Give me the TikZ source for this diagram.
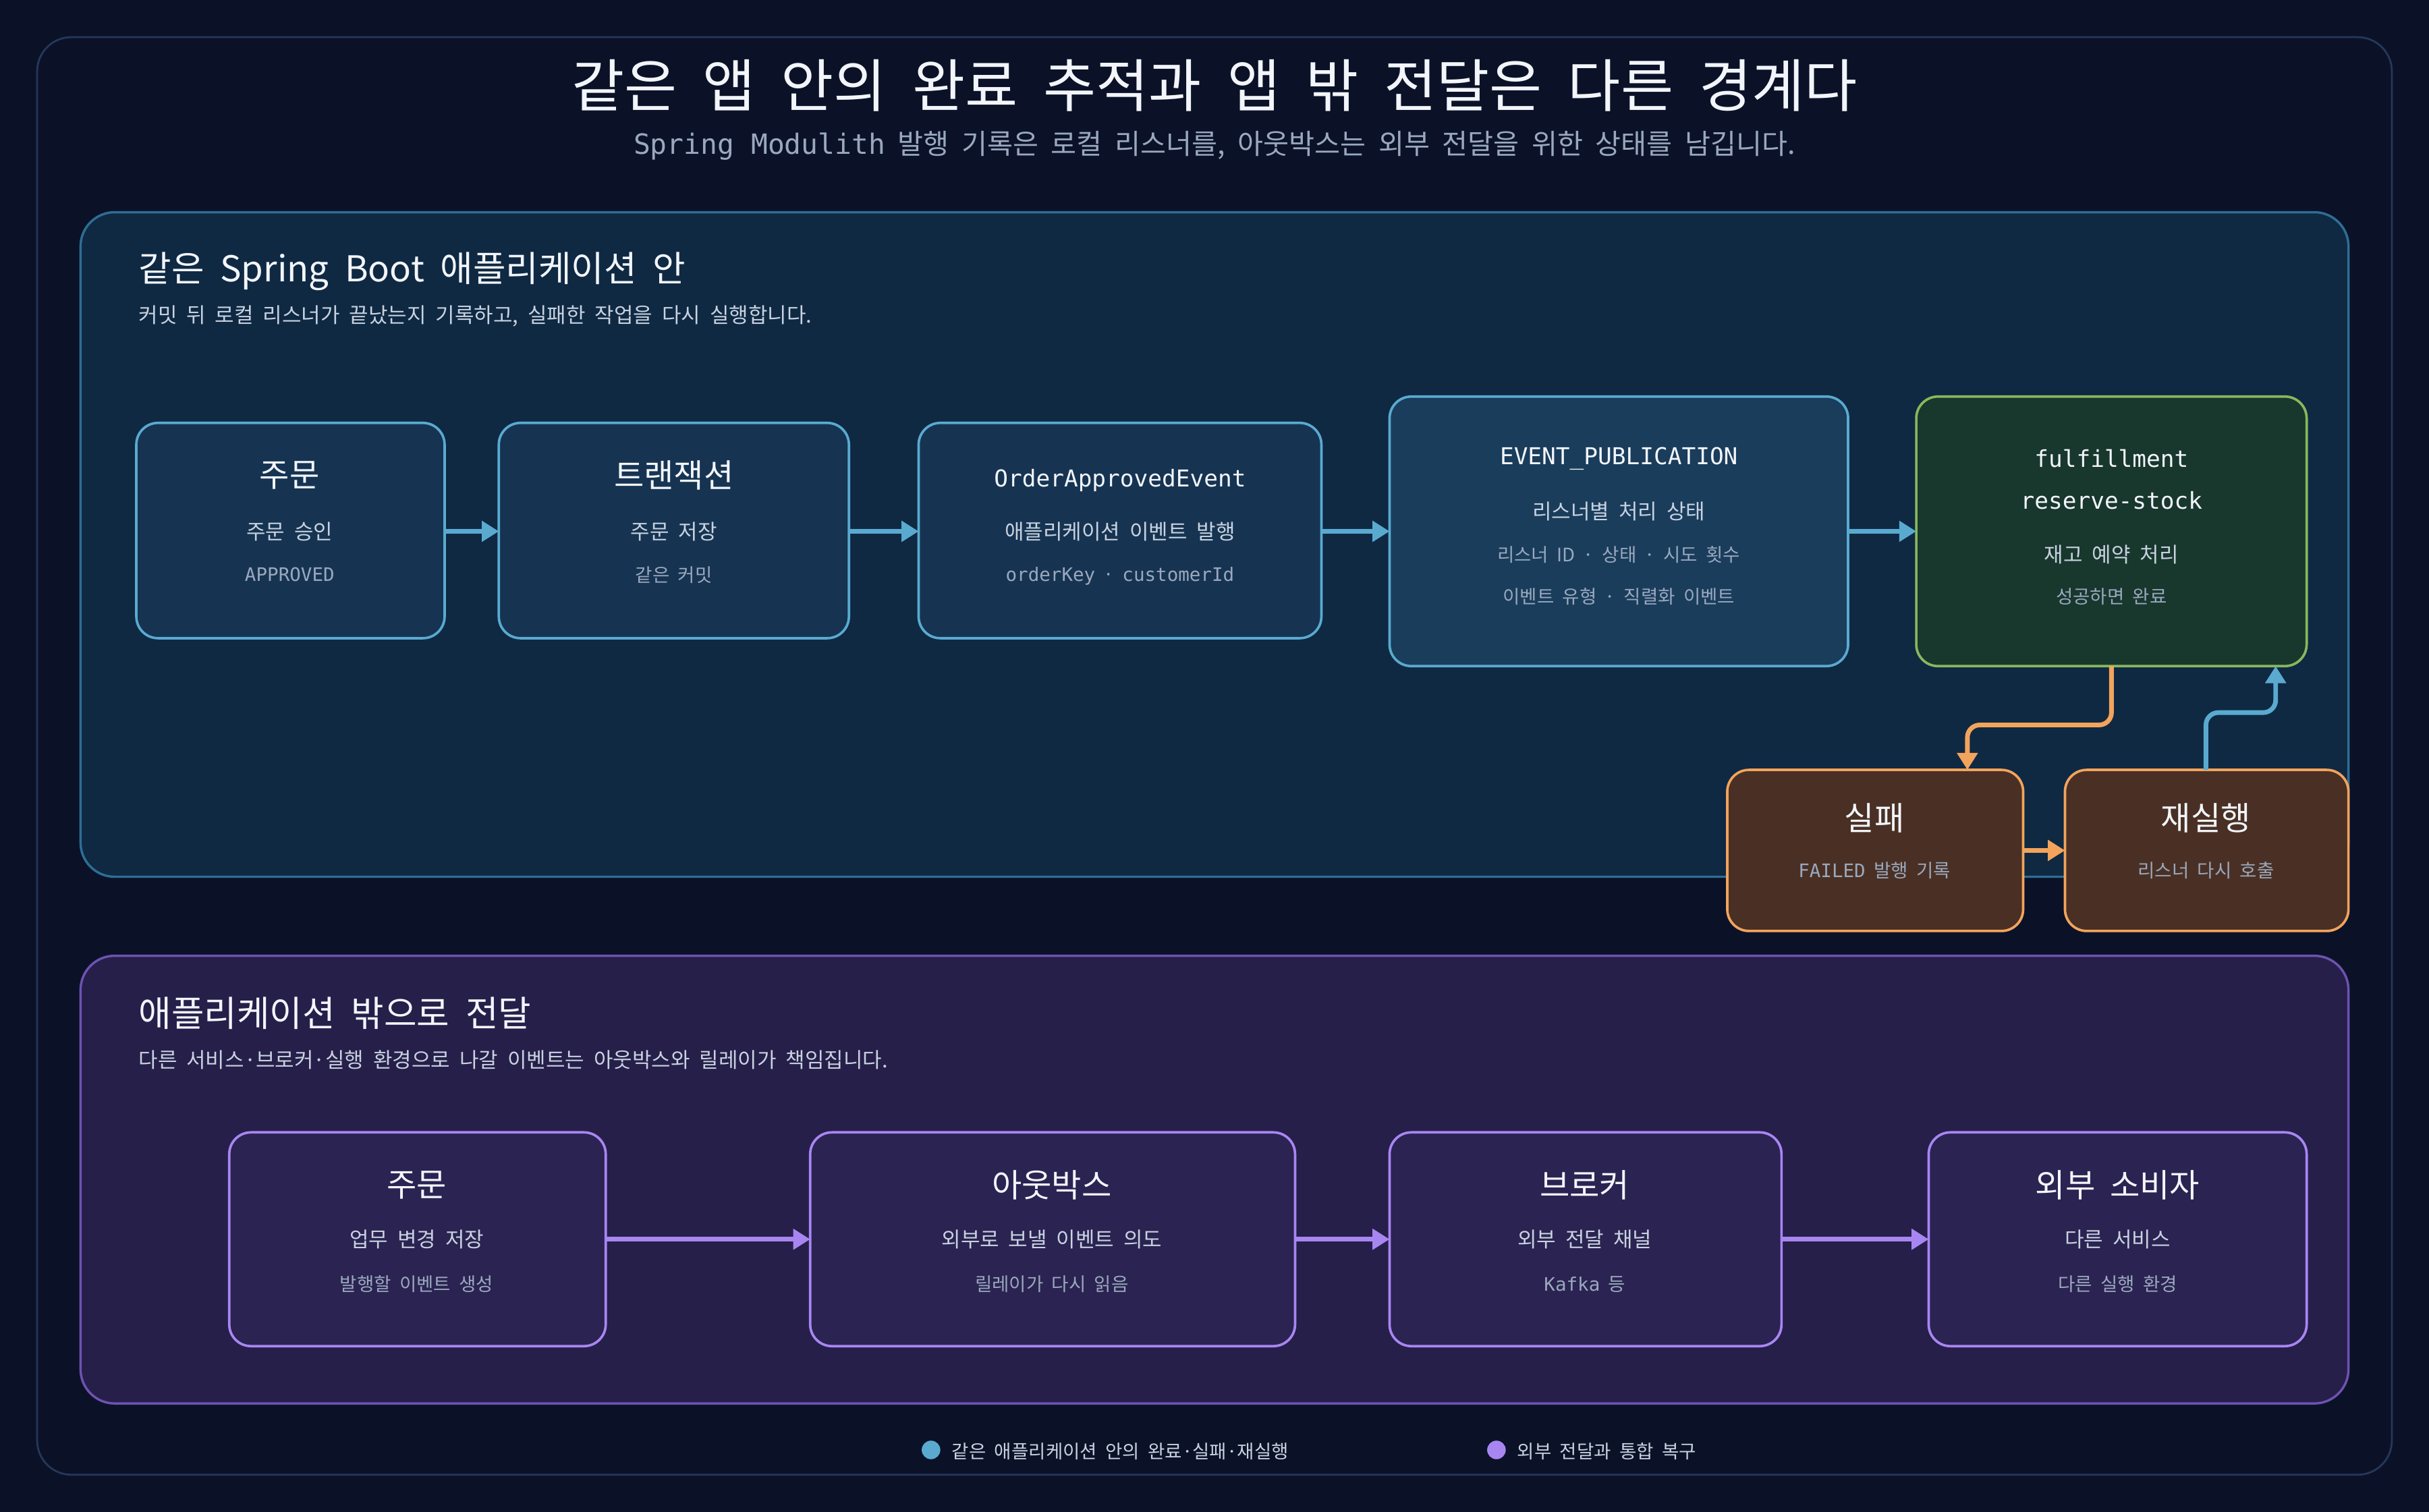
\documentclass[tikz,border=0pt]{standalone}
\usepackage{fontspec}
\setmainfont{Noto Sans CJK KR}[WordSpace=2]
\newfontfamily\mono{DejaVu Sans Mono}
\usetikzlibrary{arrows.meta}
\definecolor{bg}{HTML}{0B1228}
\definecolor{frame}{HTML}{26385A}
\definecolor{pA}{HTML}{0F2943}
\definecolor{pAs}{HTML}{2E6E94}
\definecolor{bA}{HTML}{163452}
\definecolor{bAs}{HTML}{5AAAD0}
\definecolor{gF}{HTML}{18372D}
\definecolor{gS}{HTML}{88B85C}
\definecolor{oF}{HTML}{4A3024}
\definecolor{oS}{HTML}{F2A45C}
\definecolor{pB}{HTML}{261F4A}
\definecolor{pBs}{HTML}{6E52B0}
\definecolor{bB}{HTML}{2B2352}
\definecolor{bBs}{HTML}{A886F2}
\definecolor{txt}{HTML}{F2F5FA}
\definecolor{sub}{HTML}{C8D2E0}
\definecolor{dim}{HTML}{9AA8BE}
\tikzset{
 box/.style={draw=bAs,fill=bA,line width=1.6pt,rounded corners=14pt},
 gbox/.style={draw=gS,fill=gF,line width=1.6pt,rounded corners=14pt},
 obox/.style={draw=oS,fill=oF,line width=1.6pt,rounded corners=14pt},
 pbox/.style={draw=bBs,fill=bB,line width=1.6pt,rounded corners=14pt},
 tl/.style={text=txt,font=\fontsize{21}{24}\selectfont},
 l1/.style={text=sub,font=\fontsize{13.5}{16}\selectfont},
 l2/.style={text=dim,font=\fontsize{12}{14}\selectfont},
 ab/.style={draw=bAs,line width=3pt,-{Triangle[length=11pt,width=13pt]}},
 ao/.style={draw=oS,line width=3pt,-{Triangle[length=11pt,width=13pt]},rounded corners=8pt},
 ap/.style={draw=bBs,line width=3pt,-{Triangle[length=11pt,width=13pt]}},
}
\begin{document}
\begin{tikzpicture}[x=1pt,y=-1pt]
\useasboundingbox (0,0) rectangle (1568,976);
\fill[bg] (0,0) rectangle (1568,976);
\draw[frame,line width=1.2pt,rounded corners=22pt] (24,24) rectangle (1544,952);
\node[text=txt,font=\fontsize{37}{42}\selectfont] (title) at (784,55) {같은 앱 안의 완료 추적과 앱 밖 전달은 다른 경계다};
\node[text=dim,font=\fontsize{18}{20}\selectfont] (subt) at (784,94) {{\mono Spring Modulith} 발행 기록은 로컬 리스너를, 아웃박스는 외부 전달을 위한 상태를 남깁니다.};
% panel 1
\draw[pAs,fill=pA,line width=1.5pt,rounded corners=22pt] (52,137) rectangle (1516,566);
\node[anchor=west,text=txt,font=\fontsize{23}{26}\selectfont] (p1t) at (86,175) {같은 Spring Boot 애플리케이션 안};
\node[anchor=west,text=sub,font=\fontsize{13.5}{16}\selectfont] (p1s) at (86,204) {커밋 뒤 로컬 리스너가 끝났는지 기록하고, 실패한 작업을 다시 실행합니다.};
\draw[box] (88,273) rectangle (287,412);
\draw[box] (322,273) rectangle (548,412);
\draw[box] (593,273) rectangle (853,412);
\draw[box,fill=bA!85!pAs] (897,256) rectangle (1193,430);
\draw[gbox] (1237,256) rectangle (1489,430);
\draw[obox] (1115,497) rectangle (1306,601);
\draw[obox] (1333,497) rectangle (1516,601);
\node[tl] (t1) at (187,307) {주문};
\node[l1] (t1a) at (187,343) {주문 승인};
\node[l2] (t1b) at (187,371) {\mono APPROVED};
\node[tl] (t2) at (435,307) {트랜잭션};
\node[l1] (t2a) at (435,343) {주문 저장};
\node[l2] (t2b) at (435,371) {같은 커밋};
\node[l1,text=txt,font=\mono\fontsize{15}{18}\selectfont] (t3) at (723,310) {OrderApprovedEvent};
\node[l1] (t3a) at (723,343) {애플리케이션 이벤트 발행};
\node[l2] (t3b) at (723,372) {{\mono orderKey} · {\mono customerId}};
\node[l1,text=txt,font=\mono\fontsize{15}{18}\selectfont] (t4) at (1045,296) {EVENT\_PUBLICATION};
\node[l1] (t4a) at (1045,330) {리스너별 처리 상태};
\node[l2] (t4b) at (1045,358) {리스너 ID · 상태 · 시도 횟수};
\node[l2] (t4c) at (1045,385) {이벤트 유형 · 직렬화 이벤트};
\node[l1,text=txt,font=\mono\fontsize{15}{18}\selectfont] (t5) at (1363,296) {fulfillment};
\node[l1,text=txt,font=\mono\fontsize{15}{18}\selectfont] (t5x) at (1363,323) {reserve-stock};
\node[l1] (t5a) at (1363,358) {재고 예약 처리};
\node[l2] (t5b) at (1363,385) {성공하면 완료};
\node[tl] (t6) at (1210,528) {실패};
\node[l2] (t6a) at (1210,562) {{\mono FAILED} 발행 기록};
\node[tl] (t7) at (1424,528) {재실행};
\node[l2] (t7a) at (1424,562) {리스너 다시 호출};
\draw[ab] (287,343) -- (322,343);
\draw[ab] (548,343) -- (593,343);
\draw[ab] (853,343) -- (897,343);
\draw[ab] (1193,343) -- (1237,343);
\draw[ao] (1363,430) -- (1363,468) -- (1270,468) -- (1270,497);
\draw[ab,rounded corners=8pt] (1424,497) -- (1424,460) -- (1469,460) -- (1469,430);
\draw[ao] (1306,549) -- (1333,549);
% panel 2
\draw[pBs,fill=pB,line width=1.5pt,rounded corners=22pt] (52,617) rectangle (1516,906);
\node[anchor=west,text=txt,font=\fontsize{23}{26}\selectfont] (p2t) at (86,654) {애플리케이션 밖으로 전달};
\node[anchor=west,text=sub,font=\fontsize{13.5}{16}\selectfont] (p2s) at (86,684) {다른 서비스·브로커·실행 환경으로 나갈 이벤트는 아웃박스와 릴레이가 책임집니다.};
\draw[pbox] (148,731) rectangle (391,869);
\draw[pbox] (523,731) rectangle (836,869);
\draw[pbox] (897,731) rectangle (1150,869);
\draw[pbox] (1245,731) rectangle (1489,869);
\node[tl] (c1) at (269,765) {주문};
\node[l1] (c1a) at (269,800) {업무 변경 저장};
\node[l2] (c1b) at (269,829) {발행할 이벤트 생성};
\node[tl] (c2) at (679,765) {아웃박스};
\node[l1] (c2a) at (679,800) {외부로 보낼 이벤트 의도};
\node[l2] (c2b) at (679,829) {릴레이가 다시 읽음};
\node[tl] (c3) at (1023,765) {브로커};
\node[l1] (c3a) at (1023,800) {외부 전달 채널};
\node[l2] (c3b) at (1023,829) {{\mono Kafka} 등};
\node[tl] (c4) at (1367,765) {외부 소비자};
\node[l1] (c4a) at (1367,800) {다른 서비스};
\node[l2] (c4b) at (1367,829) {다른 실행 환경};
\draw[ap] (391,800) -- (523,800);
\draw[ap] (836,800) -- (897,800);
\draw[ap] (1150,800) -- (1245,800);
% legend
\fill[bAs] (601,936) circle (6pt);
\node[anchor=west,l2,text=sub] (lg1) at (611,937) {같은 애플리케이션 안의 완료·실패·재실행};
\fill[bBs] (966,936) circle (6pt);
\node[anchor=west,l2,text=sub] (lg2) at (976,937) {외부 전달과 통합 복구};
\end{tikzpicture}
\end{document}
